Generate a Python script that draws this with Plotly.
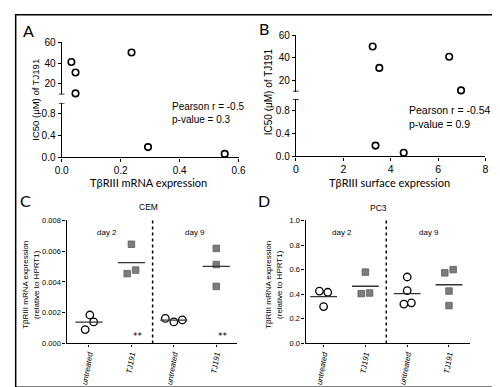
import numpy as np
import plotly.graph_objects as go

W, H = 500, 387
def px(x): return x / W
def py(y): return 1 - y / H

# ---------------- data ----------------
ic50 = [41, 31, 11, 50, 0.19, 0.065]
mrna_expr = [0.033, 0.047, 0.047, 0.237, 0.293, 0.553]
surface_expr = [6.47, 3.52, 6.97, 3.24, 3.36, 4.55]

cat_labels = ["untreated", "TJ191", "untreated", "TJ191"]

cem_groups = [
    [0.00185, 0.0009, 0.0014],
    [0.00645, 0.00454, 0.00477],
    [0.00163, 0.0014, 0.00153],
    [0.00618, 0.00513, 0.00371],
]
cem_offsets = [
    [0.02, -0.09, 0.11],
    [0.0, -0.1, 0.1],
    [-0.2, 0.0, 0.2],
    [0.0, 0.0, 0.0],
]
pc3_groups = [
    [0.426, 0.416, 0.30],
    [0.58, 0.405, 0.41],
    [0.54, 0.43, 0.32, 0.33],
    [0.574, 0.60, 0.426, 0.308],
]
pc3_offsets = [
    [-0.1, 0.1, 0.0],
    [0.0, -0.1, 0.1],
    [0.0, 0.0, -0.08, 0.1],
    [-0.1, 0.1, 0.0, 0.0],
]
signif_marks = ["", "**", "", "**"]

ARIAL = "Liberation Sans, Arial, sans-serif"
HUM = "Lato, Open Sans, sans-serif"

fig = go.Figure()

circle = dict(symbol="circle-open", size=6.5, color="black", line=dict(width=1.6, color="black"))

def add_split(xvals, xaxis, ylow, yhigh):
    lo = [(x, y) for x, y in zip(xvals, ic50) if y <= 1]
    hi = [(x, y) for x, y in zip(xvals, ic50) if y > 1]
    fig.add_trace(go.Scatter(x=[p[0] for p in hi], y=[p[1] for p in hi], mode="markers",
                             marker=circle, xaxis=xaxis, yaxis=yhigh, cliponaxis=False, showlegend=False))
    fig.add_trace(go.Scatter(x=[p[0] for p in lo], y=[p[1] for p in lo], mode="markers",
                             marker=circle, xaxis=xaxis, yaxis=ylow, cliponaxis=False, showlegend=False))

add_split(mrna_expr, "x", "y", "y2")
add_split(surface_expr, "x2", "y3", "y4")

def add_dot_panel(groups, offsets, xaxis, yaxis):
    for i, (vals, offs) in enumerate(zip(groups, offsets)):
        xs = [i + o for o in offs]
        if i % 2 == 0:
            mk = dict(symbol="circle", size=7.5, color="white", line=dict(width=1.3, color="black"))
        else:
            mk = dict(symbol="square", size=6.5, color="#7d7d7d", line=dict(width=0.8, color="#5a5a5a"))
        fig.add_trace(go.Scatter(x=xs, y=vals, mode="markers", marker=mk, xaxis=xaxis, yaxis=yaxis,
                                 cliponaxis=False, showlegend=False))
        m = float(np.mean(vals))
        fig.add_trace(go.Scatter(x=[i - 0.32, i + 0.32], y=[m, m], mode="lines",
                                 line=dict(color="#333333", width=1.3), xaxis=xaxis, yaxis=yaxis,
                                 showlegend=False, hoverinfo="skip"))

add_dot_panel(cem_groups, cem_offsets, "x3", "y5")
add_dot_panel(pc3_groups, pc3_offsets, "x4", "y6")

axis_common = dict(showline=True, linecolor="black", linewidth=1.3, ticks="outside",
                   ticklen=3, tickwidth=1.2, tickcolor="black", showgrid=False, zeroline=False)

def tf(size):
    return dict(family=ARIAL, size=size, color="black")

# Panel A domains
A_x = [px(48), px(230)]
A_ylo = [py(148), py(92)]
A_yhi = [py(83), py(29)]
# Panel B
B_x = [px(289), px(484)]
B_ylo = [py(147), py(88)]
B_yhi = [py(80), py(22)]
# Panel C
C_x = [px(53), px(228)]
C_y = [py(340), py(213)]
# Panel D
D_x = [px(299), px(468)]
D_y = [py(340), py(213)]

catfont = dict(family=ARIAL, size=7.8, color="black", style="italic")

fig.update_layout(
    width=W, height=H, margin=dict(l=0, r=0, t=0, b=0),
    paper_bgcolor="white", plot_bgcolor="rgba(0,0,0,0)", showlegend=False,
    xaxis=dict(axis_common, domain=A_x, range=[0, 0.6], tickvals=[0, 0.2, 0.4, 0.6],
               tickformat=".1f", anchor="y", tickfont=tf(10)),
    yaxis=dict(axis_common, domain=A_ylo, range=[0, 1.0], tickvals=[0, 0.4, 0.8],
               tickformat=".1f", anchor="x", tickfont=tf(10)),
    yaxis2=dict(axis_common, domain=A_yhi, range=[10, 60], tickvals=[20, 40, 60],
                anchor="x", tickfont=tf(10)),
    xaxis2=dict(axis_common, domain=B_x, range=[0, 8], tickvals=[0, 2, 4, 6, 8],
                anchor="y3", tickfont=tf(10.5)),
    yaxis3=dict(axis_common, domain=B_ylo, range=[0, 1.0], tickvals=[0, 0.4, 0.8],
                tickformat=".1f", anchor="x2", tickfont=tf(10)),
    yaxis4=dict(axis_common, domain=B_yhi, range=[10, 60], tickvals=[20, 40, 60],
                anchor="x2", tickfont=tf(10)),
    xaxis3=dict(axis_common, domain=C_x, range=[-0.53, 3.48], tickvals=[0, 1, 2, 3],
                ticktext=cat_labels, tickangle=-80, anchor="y5", tickfont=catfont, ticklen=2),
    yaxis5=dict(axis_common, domain=C_y, range=[0, 0.008],
                tickvals=[0, 0.002, 0.004, 0.006, 0.008], tickformat=".3f",
                anchor="x3", tickfont=tf(7.5)),
    xaxis4=dict(axis_common, domain=D_x, range=[-0.43, 3.5], tickvals=[0, 1, 2, 3],
                ticktext=cat_labels, tickangle=-80, anchor="y6", tickfont=catfont, ticklen=2),
    yaxis6=dict(axis_common, domain=D_y, range=[0, 1.0],
                tickvals=[0, 0.2, 0.4, 0.6, 0.8, 1.0], tickformat=".1f",
                anchor="x4", tickfont=tf(7.5)),
)

shapes = []
# outer border
shapes.append(dict(type="rect", xref="paper", yref="paper", x0=px(0.7), x1=px(498.6),
                   y0=py(385.2), y1=py(0.7), line=dict(color="black", width=1.5)))
# axis break caps
for xdom, yname_lo, yname_hi in [(A_x, "y", "y2"), (B_x, "y3", "y4")]:
    shapes.append(dict(type="line", xref="paper", yref=yname_hi, x0=xdom[0] - px(3),
                       x1=xdom[0] + px(3), y0=10, y1=10, line=dict(color="black", width=1.4)))
    shapes.append(dict(type="line", xref="paper", yref=yname_lo, x0=xdom[0] - px(3),
                       x1=xdom[0] + px(3), y0=1.0, y1=1.0, line=dict(color="black", width=1.4)))
# dotted separators
for xr, yr in [("x3", "y5 domain"), ("x4", "y6 domain")]:
    shapes.append(dict(type="line", xref=xr, yref=yr, x0=1.5, x1=1.5, y0=0, y1=1,
                       line=dict(color="black", width=1.5, dash="dot")))
fig.update_layout(shapes=shapes)

ann = []
def pa(x, y, text, size, family=ARIAL, angle=0, xanchor="center", yanchor="middle", **kw):
    ann.append(dict(x=px(x), y=py(y), xref="paper", yref="paper", text=text, showarrow=False,
                    font=dict(family=family, size=size, color="black"), textangle=angle,
                    xanchor=xanchor, yanchor=yanchor, **kw))

# panel letters
pa(14, 17, "A", 16, HUM)
pa(256, 15, "B", 16, HUM)
pa(11, 192, "C", 16, HUM)
pa(256, 192, "D", 16, HUM)
# axis titles A/B
pa(137, 174, "TβRIII mRNA expression", 11, HUM)
pa(385, 174, "TβRIII surface expression", 11, HUM)
pa(21, 88, "IC50 (μM) of TJ191", 9.5, ARIAL, angle=-90)
pa(261, 80, "IC50 (μM) of TJ191", 10, ARIAL, angle=-90)
# stats text
pa(159, 102, "Pearson r = -0.5<br>p-value = 0.3", 10, ARIAL, xanchor="left", align="left")
pa(403, 106, "Pearson r = -0.54<br>p-value = 0.9", 10.5, ARIAL, xanchor="left", align="left")
# C / D titles
pa(137, 199, "CEM", 8.5)
pa(374, 200, "PC3", 8.5)
pa(16, 280, "TβRIII mRNA expression<br>(relative to HPRT1)", 8, ARIAL, angle=-90)
pa(266, 280, "TβRIII mRNA expression<br>(relative to HPRT1)", 8, ARIAL, angle=-90)

for xr, yr, x, y, t in [("x3", "y5", 0.42, 0.0072, "day 2"), ("x3", "y5", 2.49, 0.0072, "day 9"),
                        ("x4", "y6", 0.45, 0.9, "day 2"), ("x4", "y6", 2.52, 0.9, "day 9")]:
    ann.append(dict(x=x, y=y, xref=xr, yref=yr, text=t, showarrow=False,
                    font=dict(family=ARIAL, size=8, color="black")))
for i, mark in enumerate(signif_marks):
    if mark:
        ann.append(dict(x=i + 0.16, y=0, xref="x3", yref="y5", text=mark, showarrow=False,
                        yanchor="bottom", font=dict(family="DejaVu Sans", size=9, color="black")))
fig.update_layout(annotations=ann)

fig.write_html("out.html")
